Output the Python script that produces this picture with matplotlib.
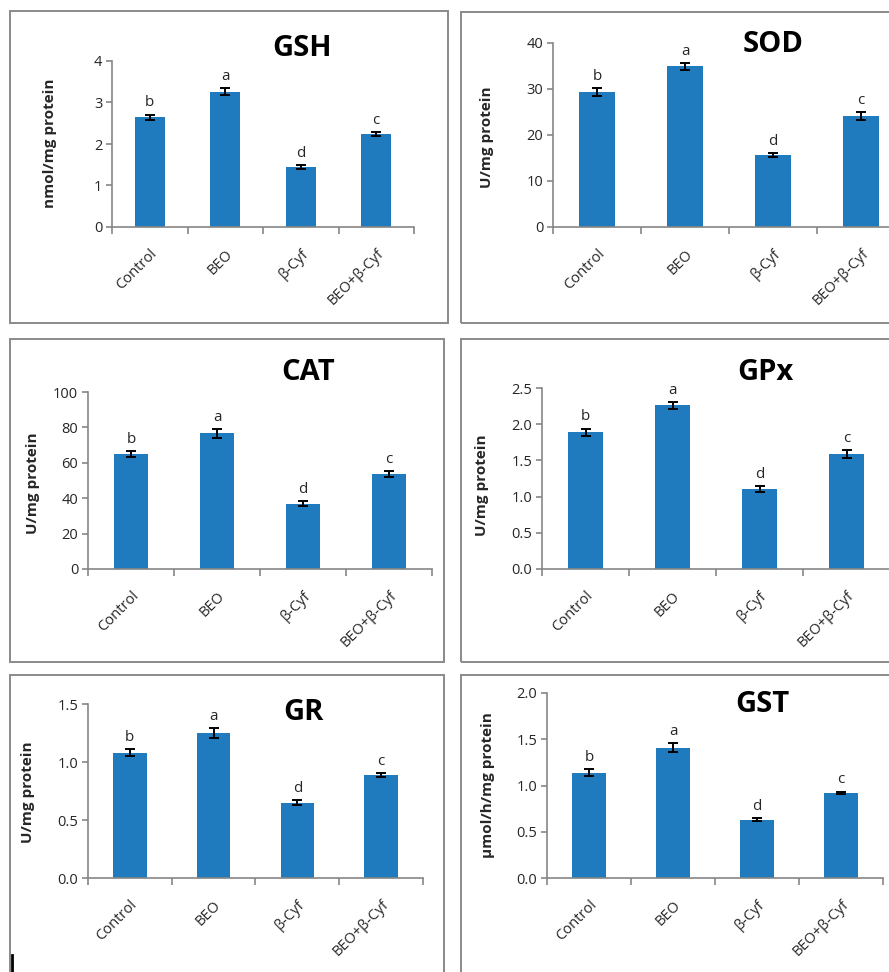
import matplotlib
matplotlib.use("Agg")
import matplotlib.pyplot as plt
from matplotlib.patches import Rectangle
from matplotlib.lines import Line2D
import matplotlib.transforms as mtransforms
import numpy as np

plt.rcParams['font.family'] = ['Open Sans', 'DejaVu Sans']

groups = ['Control', 'BEO', 'β-Cyf', 'BEO+β-Cyf']
letters = ['b', 'a', 'd', 'c']

gsh = [2.64, 3.26, 1.45, 2.24]
gsh_err = [0.07, 0.08, 0.05, 0.05]
sod = [29.3, 34.9, 15.7, 24.1]
sod_err = [0.9, 0.8, 0.4, 0.8]
cat = [65.0, 76.6, 36.9, 53.7]
cat_err = [1.5, 2.5, 1.5, 1.5]
gpx = [1.89, 2.26, 1.10, 1.59]
gpx_err = [0.05, 0.05, 0.04, 0.05]
gr = [1.08, 1.25, 0.65, 0.89]
gr_err = [0.03, 0.04, 0.02, 0.015]
gst = [1.14, 1.41, 0.63, 0.92]
gst_err = [0.04, 0.05, 0.015, 0.015]

W, H = 889, 972
fig = plt.figure(figsize=(W / 100, H / 100), dpi=100)

def fx(px):
    return px / W

def fy(py):
    return 1 - py / H

# panel frames (left, top, right, bottom) in pixels
frames = [(10, 11, 448, 323), (461, 12, 905, 323),
          (10, 339, 444, 662), (461, 339, 905, 662),
          (10, 675, 444, 990), (461, 675, 905, 990)]
for l, t, r, b in frames:
    fig.add_artist(Rectangle((fx(l), fy(b)), fx(r - l), fy(t) - fy(b),
                             transform=fig.transFigure, fill=False,
                             edgecolor='#8a8a8a', linewidth=1.4))

# small mark at bottom left
fig.add_artist(Line2D([fx(12), fx(12)], [fy(955), fy(972)], transform=fig.transFigure,
                      color='black', linewidth=2))

panels = [
    # name, values, errors, ylim, yticks, fmt, ylabel, axes px (l, r, y0, ytop), title px, ylabel px
    ('GSH', gsh, gsh_err, 4, [0, 1, 2, 3, 4], '{:.0f}', 'nmol/mg protein',
     (112, 414, 227, 61), (302, 48), (50, 143)),
    ('SOD', sod, sod_err, 40, [0, 10, 20, 30, 40], '{:.0f}', 'U/mg protein',
     (553, 905, 227, 43), (773, 45), (487, 137)),
    ('CAT', cat, cat_err, 100, [0, 20, 40, 60, 80, 100], '{:.0f}', 'U/mg protein',
     (88, 432, 569, 392), (308, 373), (33, 483)),
    ('GPx', gpx, gpx_err, 2.5, [0, 0.5, 1.0, 1.5, 2.0, 2.5], '{:.1f}', 'U/mg protein',
     (542, 890, 569, 388), (765, 372), (482, 485)),
    ('GR', gr, gr_err, 1.5, [0, 0.5, 1.0, 1.5], '{:.1f}', 'U/mg protein',
     (88, 423, 878, 704), (303, 712), (28, 792)),
    ('GST', gst, gst_err, 2.0, [0, 0.5, 1.0, 1.5, 2.0], '{:.1f}', 'µmol/h/mg protein',
     (547, 883, 878, 693), (762, 704), (488, 785)),
]

bar_color = '#1f7bbd'
axis_color = '#868686'
text_color = '#262626'

for name, vals, errs, ymax, yticks, fmt, ylab, (l, r, y0, yt), (tx, ty), (lx, ly) in panels:
    ax = fig.add_axes([fx(l), fy(y0), fx(r - l), fy(yt) - fy(y0)])
    x = np.arange(len(groups))
    ax.bar(x, vals, width=0.4, color=bar_color, zorder=2)
    ax.errorbar(x, vals, yerr=errs, fmt='none', ecolor='black', elinewidth=1.4,
                capsize=3.5, capthick=1.4, zorder=3)
    for xi, v, e, lt in zip(x, vals, errs, letters):
        ax.annotate(lt, (xi, v + e), xytext=(0, 3), textcoords='offset points',
                    ha='center', va='bottom', fontsize=11, color=text_color)
    ax.set_xlim(-0.5, len(groups) - 0.5)
    ax.set_ylim(0, ymax)
    ax.set_yticks(yticks)
    ax.set_yticklabels([fmt.format(t) for t in yticks], fontsize=10.5, color=text_color)
    ax.set_xticks(x)
    ax.set_xticklabels(groups, rotation=45, ha='right', rotation_mode='anchor',
                       fontsize=10.5, color=text_color)
    shift = mtransforms.ScaledTranslation(6 / 72, 0, fig.dpi_scale_trans)
    for lab in ax.get_xticklabels():
        lab.set_transform(lab.get_transform() + shift)
    ax.tick_params(axis='x', which='major', length=0, pad=14)
    ax.set_xticks(np.arange(-0.5, len(groups)), minor=True)
    ax.tick_params(axis='x', which='minor', length=5, color=axis_color, width=1.2)
    ax.tick_params(axis='y', length=4, color=axis_color, width=1.2, pad=3)
    for s in ['top', 'right']:
        ax.spines[s].set_visible(False)
    for s in ['left', 'bottom']:
        ax.spines[s].set_color(axis_color)
        ax.spines[s].set_linewidth(1.2)
    ax.set_facecolor('none')
    fig.text(fx(tx), fy(ty), name, ha='center', va='center', fontsize=21,
             fontweight='bold', color='black')
    fig.text(fx(lx), fy(ly), ylab, ha='center', va='center', rotation=90,
             fontsize=11, fontweight='bold', color=text_color)

fig.savefig('out.png', dpi=100)
